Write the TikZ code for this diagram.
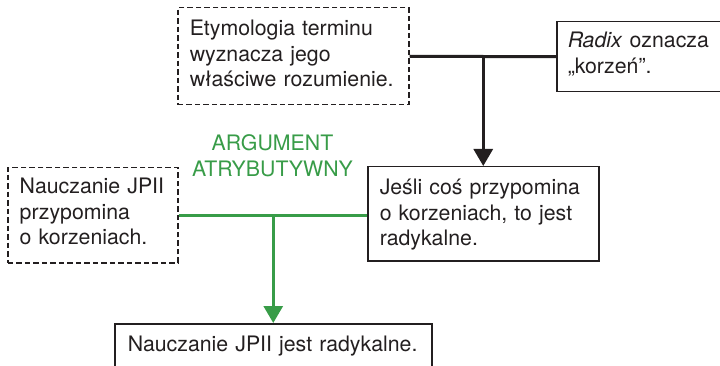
\documentclass[tikz,border=0pt]{standalone}
\usepackage{fontspec}
\setmainfont{TeX Gyre Heros}
\usetikzlibrary{arrows.meta}

\definecolor{ink}{RGB}{35,31,32}
\definecolor{argreen}{RGB}{56,156,72}

\tikzset{
  premise/.style={draw=ink, line width=1.5pt, text=ink, align=left,
    inner ysep=0pt, anchor=north west,
    font=\fontsize{21.3}{25.5}\selectfont},
  hidden/.style={premise, dash pattern=on 5.5pt off 3pt},
  link/.style={draw=ink, line width=3pt},
  arglink/.style={draw=argreen, line width=3pt},
  tip/.style={-{Triangle[width=19pt,length=17pt]}},
}

\begin{document}
\begin{tikzpicture}[x=1pt, y=-1pt]
  \useasboundingbox (0,0) rectangle (720,366);

  % upper argument: two premises supporting the conditional
  \node[hidden, inner xsep=12pt, text width=207pt, text height=28pt, text depth=69pt]
    (etym) at (177,7) {Etymologia terminu\\wyznacza jego\\właściwe~rozumienie.};
  \node[premise, inner xsep=11pt, text width=200pt, text height=26pt, text depth=44pt]
    (radix) at (556,21) {\textit{Radix} oznacza\\„korzeń”.};

  % lower argument
  \node[hidden, inner xsep=12pt, text width=146pt, text height=26pt, text depth=69pt]
    (jp2) at (7,167) {Nauczanie~JPII\\przypomina\\o korzeniach.};
  \node[premise, inner xsep=12pt, text width=207pt, text height=28pt, text depth=66pt]
    (cond) at (367,166) {Jeśli coś przypomina\\o korzeniach, to jest\\radykalne.};
  \node[premise, inner xsep=13pt, text width=291pt, text height=28pt, text depth=44pt]
    (concl) at (114,323) {Nauczanie~JPII~jest~radykalne.};

  % connectors of the upper argument
  \draw[link] (etym.east) -- (radix.west);
  \coordinate (j1) at (cond.north |- etym.east);
  \draw[link, tip] (j1) -- (cond.north);

  % connectors of the lower argument
  \draw[arglink] (jp2.east) -- (cond.west |- jp2.east);
  \coordinate (j2) at (concl.north |- jp2.east);
  \draw[arglink, tip, argreen] (j2) -- (concl.north);

  \node[text=argreen, align=center, inner sep=0pt, anchor=north,
        text height=15pt, font=\fontsize{21.3}{26}\selectfont]
    (label) at (272.5,161) {ARGUMENT\\ATRYBUTYWNY};
\end{tikzpicture}
\end{document}
